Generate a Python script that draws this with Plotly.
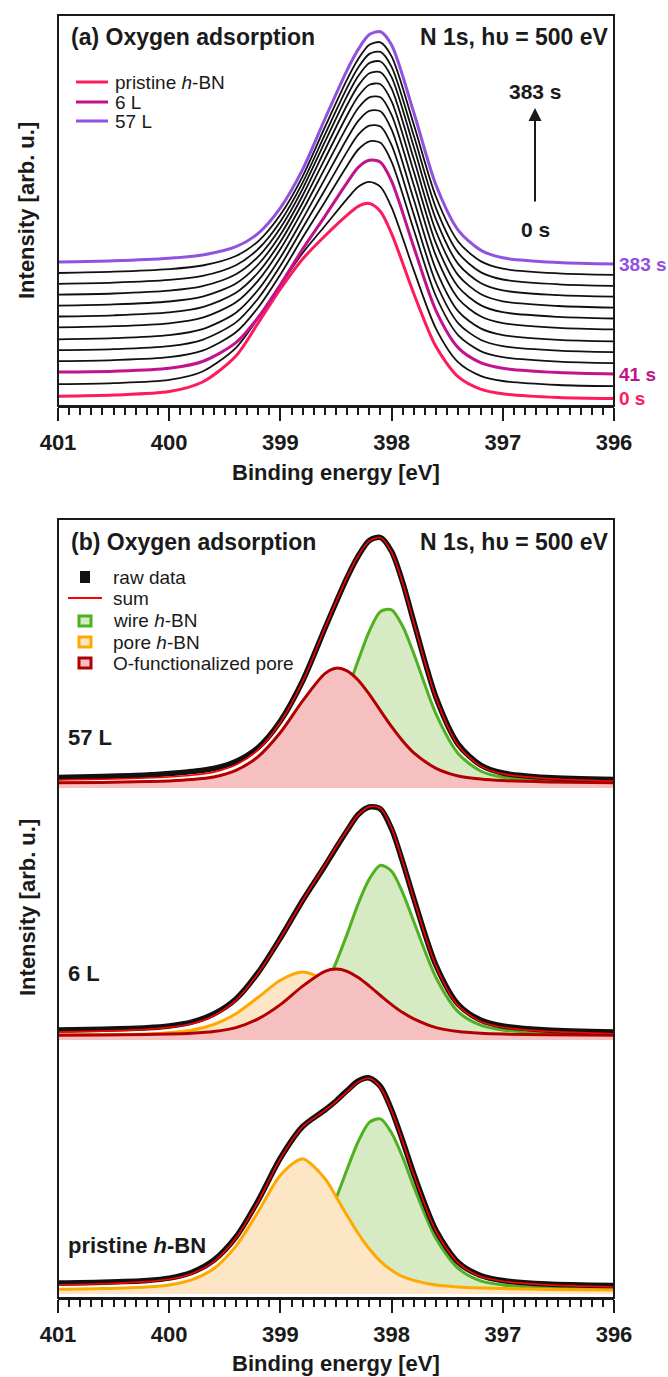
import plotly.graph_objects as go

# ============================ DATA ============================
# ---- Panel (a): N 1s spectra recorded during O2 exposure (waterfall) ----
energy_a = [401.0, 400.5, 400.0, 399.7, 399.4, 399.2, 399.0, 398.8, 398.6,
            398.4, 398.3, 398.2, 398.1, 398.0, 397.8, 397.6, 397.4, 397.2,
            397.0, 396.5, 396.0]
offsets_a = [7, 19, 31, 42, 53, 64, 76, 87, 98, 109, 120, 131, 142]

spec_a_00 = [2.8, 4.0, 7.4, 17.0, 43.0, 76.0, 110.0, 140.0, 163.0, 183.8, 192.7, 195.5, 187.5, 165.4, 105.3, 52.2, 22.1, 9.9, 5.2, 1.6, 0.5]
spec_a_01 = [2.9, 3.9, 7.1, 15.5, 39.2, 69.0, 102.0, 134.0, 161.0, 188.1, 200.2, 205.1, 200.2, 179.6, 116.6, 58.2, 24.6, 11.2, 6.0, 2.0, 0.8]
spec_a_02 = [2.9, 3.8, 6.7, 13.5, 32.3, 57.5, 90.3, 125.9, 158.7, 192.4, 207.6, 214.7, 212.8, 193.8, 127.8, 64.1, 27.1, 12.4, 6.7, 2.4, 1.0]
spec_a_03 = [2.9, 3.9, 6.8, 13.4, 31.7, 56.5, 89.5, 126.5, 162.1, 198.3, 214.5, 222.7, 221.2, 202.2, 134.0, 67.5, 28.6, 12.9, 6.8, 2.4, 0.9]
spec_a_04 = [2.8, 3.8, 6.8, 13.2, 30.6, 54.5, 87.2, 125.0, 163.0, 201.4, 218.4, 227.4, 226.5, 207.8, 138.4, 70.0, 29.7, 13.3, 6.9, 2.3, 0.8]
spec_a_05 = [2.7, 3.8, 6.8, 12.8, 29.3, 52.2, 84.5, 122.9, 163.1, 203.5, 221.2, 231.2, 230.7, 212.4, 142.2, 72.2, 30.6, 13.6, 6.9, 2.2, 0.7]
spec_a_06 = [2.6, 3.8, 6.7, 12.3, 27.7, 49.4, 80.9, 119.6, 161.6, 203.6, 222.0, 232.7, 232.7, 215.1, 144.7, 73.8, 31.3, 13.7, 6.9, 2.2, 0.6]
spec_a_07 = [2.5, 3.7, 6.6, 11.9, 26.2, 46.5, 77.3, 116.3, 160.2, 203.8, 222.7, 234.3, 234.8, 217.7, 147.2, 75.3, 32.0, 13.9, 6.8, 2.1, 0.5]
spec_a_08 = [2.4, 3.6, 6.5, 11.3, 24.5, 43.5, 73.3, 112.5, 158.0, 203.0, 222.4, 234.7, 235.7, 219.3, 148.9, 76.5, 32.6, 14.0, 6.7, 2.0, 0.4]
spec_a_09 = [2.3, 3.5, 6.3, 10.8, 22.7, 40.3, 69.1, 108.2, 155.1, 201.2, 221.0, 234.0, 235.5, 219.8, 149.9, 77.3, 32.9, 14.0, 6.6, 1.8, 0.3]
spec_a_10 = [2.2, 3.4, 6.1, 10.1, 20.8, 37.0, 64.6, 103.4, 151.4, 198.4, 218.5, 232.1, 234.1, 219.2, 150.2, 77.7, 33.1, 13.9, 6.5, 1.7, 0.2]
spec_a_11 = [2.0, 3.3, 5.9, 9.5, 19.0, 33.7, 60.2, 98.7, 147.8, 195.7, 216.0, 230.2, 232.7, 218.6, 150.3, 78.0, 33.3, 13.9, 6.3, 1.6, 0.1]
spec_a_12 = [1.9, 3.2, 5.8, 9.0, 17.3, 30.7, 56.2, 94.6, 145.0, 193.9, 214.6, 229.4, 232.3, 218.9, 151.2, 78.7, 33.6, 13.9, 6.2, 1.5, 0.0]
spectra_a = [spec_a_00, spec_a_01, spec_a_02, spec_a_03, spec_a_04, spec_a_05, spec_a_06,
             spec_a_07, spec_a_08, spec_a_09, spec_a_10, spec_a_11, spec_a_12]

time_labels_a = {0: "0 s", 2: "41 s", 12: "383 s"}
legend_labels_a = ["pristine <i>h</i>-BN", "6 L", "57 L"]
half_ticks = [400.5, 399.5, 398.5, 397.5, 396.5]

# ---- Panel (b): peak fits ----
energy_b = [401.0, 400.6, 400.2, 400.0, 399.8, 399.6, 399.4, 399.2, 399.0, 398.8,
            398.6, 398.5, 398.4, 398.3, 398.2, 398.1, 398.0, 397.9, 397.8, 397.6,
            397.4, 397.2, 397.0, 396.6, 396.0]

l57_raw = [10.5, 11.5, 13.0, 14.5, 16.5, 19.5, 26.5, 40.5, 67.0, 107.0, 159.5, 185.5, 210.5, 232.0, 247.5, 250.5, 236.5, 205.5, 166.0, 90.5, 43.5, 23.0, 15.0, 10.5, 8.5]
l57_sum = [8.0, 8.7, 10.0, 11.0, 12.7, 15.9, 23.2, 38.3, 65.8, 106.4, 159.7, 185.7, 210.8, 232.3, 247.1, 250.3, 235.9, 205.0, 165.5, 89.7, 42.3, 21.9, 14.1, 9.4, 6.9]
l57_wire = [4.8, 5.1, 5.5, 5.9, 6.3, 6.9, 7.7, 9.1, 12.6, 21.8, 48.0, 68.8, 96.6, 127.7, 156.9, 176.5, 178.2, 161.7, 134.2, 73.9, 34.3, 17.0, 10.7, 7.3, 5.7]
l57_ofunc = [5.2, 5.6, 6.5, 7.1, 8.4, 11.0, 17.6, 31.4, 55.5, 87.1, 114.4, 119.8, 117.2, 107.8, 93.6, 77.3, 61.3, 47.0, 35.1, 19.7, 12.0, 8.9, 7.4, 6.1, 5.2]

l6_raw = [10.0, 10.8, 12.2, 14.0, 17.8, 26.0, 41.0, 67.5, 102.0, 139.5, 174.0, 192.0, 209.5, 225.5, 233.0, 231.0, 211.0, 178.0, 141.5, 74.5, 35.5, 20.0, 14.0, 10.0, 8.0]
l6_sum = [7.9, 8.9, 10.6, 12.6, 16.3, 24.3, 39.9, 66.7, 101.6, 139.4, 174.5, 192.7, 209.8, 225.1, 233.4, 231.6, 211.6, 178.5, 140.9, 73.6, 34.1, 18.6, 12.7, 8.6, 6.3]
l6_wire = [4.9, 5.1, 5.5, 5.9, 6.3, 6.9, 7.8, 9.5, 13.2, 24.5, 53.2, 77.4, 105.9, 136.4, 161.1, 174.7, 168.8, 147.2, 118.2, 62.3, 28.1, 14.8, 10.0, 7.1, 5.6]
l6_pore = [4.8, 5.3, 6.1, 7.3, 9.8, 15.5, 26.3, 42.7, 59.8, 68.0, 59.8, 51.7, 42.7, 34.0, 26.3, 20.4, 15.5, 12.1, 9.8, 7.3, 6.1, 5.6, 5.3, 4.8, 4.5]
l6_ofunc = [4.7, 5.0, 5.5, 5.9, 6.7, 8.4, 12.4, 21.2, 35.4, 53.9, 68.7, 71.0, 68.7, 62.4, 53.9, 44.5, 35.4, 27.4, 21.2, 12.4, 8.4, 6.7, 5.9, 5.2, 4.7]

pr_raw = [11.0, 11.8, 13.6, 15.9, 21.5, 33.8, 57.0, 93.5, 136.0, 167.5, 184.0, 193.0, 203.5, 213.0, 216.0, 207.5, 184.0, 153.0, 120.0, 63.5, 31.5, 18.5, 13.5, 10.0, 8.5]
pr_sum = [9.2, 10.2, 12.4, 14.7, 20.3, 32.2, 55.9, 92.4, 135.4, 167.2, 183.6, 192.4, 202.5, 212.1, 215.6, 206.5, 183.3, 152.4, 119.2, 62.5, 30.9, 17.5, 12.8, 9.1, 7.0]
pr_wire = [4.0, 4.2, 4.8, 5.1, 5.7, 6.4, 7.5, 9.7, 16.3, 32.2, 68.4, 95.4, 124.8, 152.5, 171.7, 175.1, 161.0, 136.6, 107.1, 55.2, 25.5, 13.2, 9.1, 6.2, 4.7]
pr_pore = [4.7, 5.5, 7.1, 9.1, 14.1, 25.3, 47.9, 82.2, 118.8, 135.0, 115.5, 97.5, 78.4, 60.5, 45.0, 32.7, 23.7, 17.3, 13.6, 8.9, 7.0, 6.0, 5.4, 4.6, 4.0]

sub_labels_b = ["57 L", "6 L", "pristine <i>h</i>-BN"]
legend_labels_b = ["raw data", "sum", "wire <i>h</i>-BN", "pore <i>h</i>-BN", "O-functionalized pore"]

# ============================ STYLE ============================
FONT = "Liberation Sans, Arial, Helvetica, sans-serif"
TXT = "#1a1a1a"
FRAME = "#1a1a1a"
PINK, MAGENTA, PURPLE = "#ff1a5c", "#c2138c", "#9152e0"
GREEN, GREEN_F = "#4fb020", "#d6eac4"
ORANGE, ORANGE_F = "#ffa800", "#fde6c6"
DRED, DRED_F = "#b20000", "#f7c0c0"
SUMRED = "#ff0000"

W, H = 668, 1377
ML, MR, MT, MB = 58, 54, 15, 79
PW, PH = W - ML - MR, H - MT - MB


def px(x):
    return (x - ML) / PW


def py(y):
    return (H - MB - y) / PH


fig = go.Figure()

# ---------------- panel (a) traces ----------------
colour_a = {0: PINK, 2: MAGENTA, 12: PURPLE}
draw_order = [i for i in range(len(spectra_a)) if i not in colour_a] + [0, 2, 12]
for i in draw_order:
    c = colour_a.get(i, "#111111")
    fig.add_trace(go.Scatter(
        x=energy_a, y=[offsets_a[i] + v for v in spectra_a[i]],
        mode="lines", xaxis="x", yaxis="y", showlegend=False,
        name=time_labels_a.get(i, "spectrum %d" % i),
        line=dict(color=c, width=3 if i in colour_a else 1.8, shape="spline", smoothing=0.8)))

# ---------------- panel (b) traces ----------------
subspectra = [
    ("y2", l57_raw, l57_sum, l57_wire, None, l57_ofunc),
    ("y3", l6_raw, l6_sum, l6_wire, l6_pore, l6_ofunc),
    ("y4", pr_raw, pr_sum, pr_wire, pr_pore, None),
]
for yax, raw, tot, wire, pore, ofunc in subspectra:
    for comp, lc, fc, nm in [(wire, GREEN, GREEN_F, "wire h-BN"),
                             (pore, ORANGE, ORANGE_F, "pore h-BN"),
                             (ofunc, DRED, DRED_F, "O-functionalized pore")]:
        if comp is None:
            continue
        fig.add_trace(go.Scatter(
            x=energy_b, y=comp, mode="lines", fill="tozeroy", fillcolor=fc,
            line=dict(color=lc, width=3, shape="spline", smoothing=0.8),
            xaxis="x2", yaxis=yax, showlegend=False, name=nm))
    fig.add_trace(go.Scatter(
        x=energy_b, y=raw, mode="lines", name="raw data",
        line=dict(color="#111111", width=5.5, shape="spline", smoothing=0.8),
        xaxis="x2", yaxis=yax, showlegend=False))
    fig.add_trace(go.Scatter(
        x=energy_b, y=tot, mode="lines", name="sum",
        line=dict(color=SUMRED, width=1.6, shape="spline", smoothing=0.8),
        xaxis="x2", yaxis=yax, showlegend=False))

# ---------------- axes ----------------
xcommon = dict(
    range=[401, 396], autorange=False, tickmode="linear", tick0=396, dtick=1,
    ticks="outside", ticklen=13, tickwidth=2, tickcolor=FRAME,
    showline=True, linewidth=2, linecolor=FRAME, showgrid=False, zeroline=False,
    tickfont=dict(family=FONT, size=22, color=TXT, weight="bold"),
    ticklabelstandoff=3,
    minor=dict(dtick=0.1, tick0=396, ticks="outside", ticklen=7, tickwidth=1.5,
               tickcolor=FRAME, showgrid=False))
mid = dict(range=[401, 396], autorange=False, tickmode="array", tickvals=half_ticks,
           ticks="outside", ticklen=10, tickwidth=1.5, tickcolor=FRAME,
           showticklabels=False, showline=False, showgrid=False, zeroline=False)
ycommon = dict(showline=False, showticklabels=False, ticks="", showgrid=False,
               zeroline=False, autorange=False)

fig.update_layout(
    width=W, height=H, margin=dict(l=ML, r=MR, t=MT, b=MB, pad=0),
    paper_bgcolor="white", plot_bgcolor="white", showlegend=False,
    font=dict(family=FONT, color=TXT),
    xaxis=dict(domain=[0, 1], anchor="y", **xcommon),
    xaxis2=dict(domain=[0, 1], anchor="y4", **xcommon),
    xaxis3=dict(overlaying="x", anchor="y", **mid),
    xaxis4=dict(overlaying="x2", anchor="y4", **mid),
    yaxis=dict(domain=[py(406), 1], range=[0, 391], anchor="x", **ycommon),
    yaxis2=dict(domain=[py(789), py(519)], range=[-1, 269], anchor="x2", **ycommon),
    yaxis3=dict(domain=[py(1041), py(789)], range=[-1, 251], anchor="x2", **ycommon),
    yaxis4=dict(domain=[0, py(1041)], range=[-4, 253], anchor="x2", **ycommon),
)

# ---------------- frames & legend symbols ----------------
shapes = [
    dict(type="rect", xref="paper", yref="paper", x0=0, x1=1, y0=py(406), y1=1,
         line=dict(color=FRAME, width=2)),
    dict(type="rect", xref="paper", yref="paper", x0=0, x1=1, y0=0, y1=py(519),
         line=dict(color=FRAME, width=2)),
]
ann = []


def text(x, y, s, size=23, anchor="left", color=TXT, bold=True, **kw):
    ann.append(dict(xref="paper", yref="paper", x=x, y=y, text=("<b>%s</b>" % s) if bold else s,
                    showarrow=False, xanchor=anchor, yanchor="middle",
                    font=dict(family=FONT, size=size, color=color), **kw))


# panel (a) legend
for lab, col, yrow in zip(legend_labels_a, [PINK, MAGENTA, PURPLE], [82, 102, 121]):
    shapes.append(dict(type="line", xref="paper", yref="paper", x0=px(76), x1=px(108),
                       y0=py(yrow), y1=py(yrow), line=dict(color=col, width=3)))
    text(px(113), py(yrow), lab, size=19, bold=False)

# panel (b) legend
rows_b = [577, 598, 621, 642, 663]
shapes.append(dict(type="rect", xref="paper", yref="paper", x0=px(80), x1=px(90),
                   y0=py(rows_b[0] + 6), y1=py(rows_b[0] - 6), fillcolor="#111111",
                   line=dict(width=0)))
shapes.append(dict(type="line", xref="paper", yref="paper", x0=px(68), x1=px(102),
                   y0=py(rows_b[1]), y1=py(rows_b[1]), line=dict(color=SUMRED, width=2)))
for (lc, fc), yrow in zip([(GREEN, GREEN_F), (ORANGE, ORANGE_F), (DRED, DRED_F)], rows_b[2:]):
    shapes.append(dict(type="rect", xref="paper", yref="paper", x0=px(79), x1=px(91),
                       y0=py(yrow + 5), y1=py(yrow - 5), fillcolor=fc,
                       line=dict(color=lc, width=3)))
for lab, yrow in zip(legend_labels_b, rows_b):
    text(px(111), py(yrow), lab, size=19, bold=False)

# titles
text(px(69), py(37), "(a) Oxygen adsorption")
text(px(611), py(37), "N 1s, h\u03c5 = 500 eV", anchor="right")
text(px(69), py(542), "(b) Oxygen adsorption")
text(px(611), py(542), "N 1s, h\u03c5 = 500 eV", anchor="right")

# time arrow (panel a)
ann.append(dict(xref="paper", yref="paper", x=px(535), y=py(108), ax=0, ay=95,
                axref="pixel", ayref="pixel", text="", showarrow=True,
                arrowhead=2, arrowsize=1.3, arrowwidth=2, arrowcolor=TXT))
text(px(535), py(91), "383 s", size=21, anchor="center")
text(px(535), py(229), "0 s", size=21, anchor="center")

# right-hand time labels (panel a), positioned at the curves' right ends
for i, lab in time_labels_a.items():
    ann.append(dict(xref="paper", yref="y", x=px(617), y=offsets_a[i] + spectra_a[i][-1],
                    text="<b>%s</b>" % lab, showarrow=False, xanchor="left", yanchor="middle",
                    font=dict(family=FONT, size=19, color=colour_a[i])))

# sub-spectrum labels (panel b)
for lab, yrow in zip(sub_labels_b, [737, 973, 1245]):
    text(px(66), py(yrow), lab, size=22)

# axis titles
text(0.5, py(473), "Binding energy [eV]", size=22, anchor="center")
text(0.5, py(1363), "Binding energy [eV]", size=22, anchor="center")
text(px(27), py(211), "Intensity [arb. u.]", size=22, anchor="center", textangle=-90)
text(px(27), py(908), "Intensity [arb. u.]", size=22, anchor="center", textangle=-90)

fig.update_layout(shapes=shapes, annotations=ann)
fig.write_html("out.html")
